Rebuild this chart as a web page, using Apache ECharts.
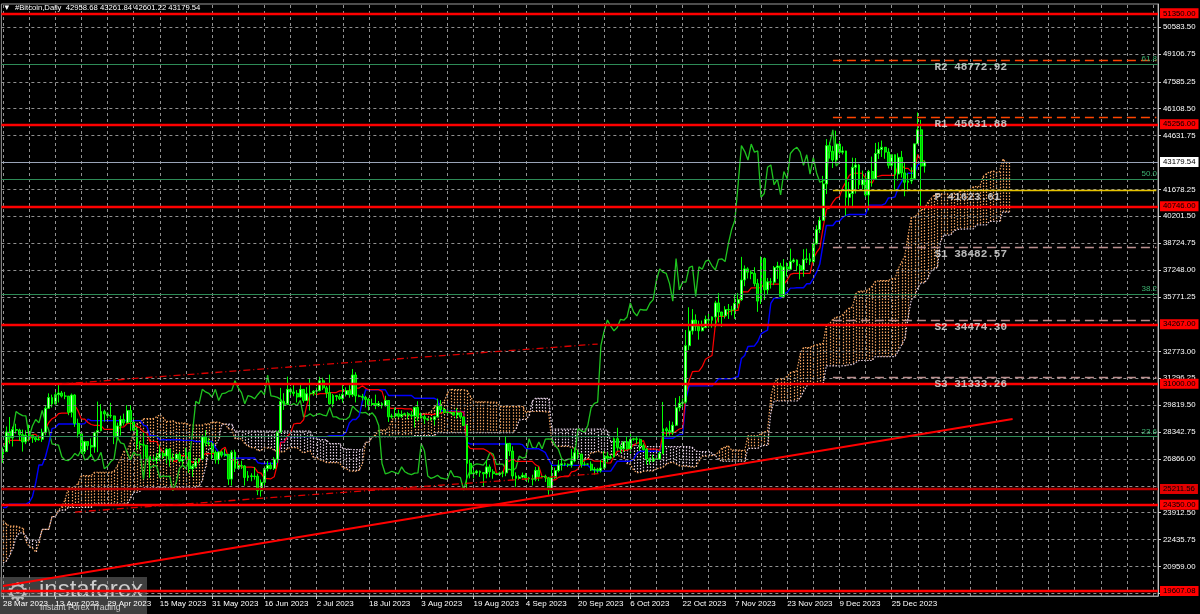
<!DOCTYPE html>
<html><head><meta charset="utf-8">
<script src="https://cdn.jsdelivr.net/npm/echarts@6/dist/echarts.min.js"></script>
<style>html,body{margin:0;padding:0;background:#000;}#c{width:1200px;height:614px;}</style>
</head><body><div id="c"></div>
<script>
// ---- data ----
// highs / lows of the 78 sessions before the first visible bar (needed only by the Ichimoku indicator)
const prehistHigh = [17400,17500,18000,19100,19900,21200,21000,21400,21600,21600,21200,22700,23300,23100,23200,23100,23800,23200,23500,23200,23900,23800,23200,
23800,24200,23700,23600,23400,23100,23300,23400,22900,21900,21900,22100,21800,22300,24300,25200,24900,24700,25100,25100,25200,24400,24500,24000,23200,23600,23900,23600,
24000,23800,23500,22500,22600,22600,22500,22100,21800,20300,20800,22200,24600,26400,25300,25200,27800,27700,28400,28500,28500,28800,28800,28400,27800,28200,28000];
const prehistLow = [17100,17100,17300,17900,18700,19900,20600,20600,20900,20400,20700,20900,22400,22300,22500,22500,22300,22900,22500,22900,23000,22600,22700,
22800,23400,23200,23300,22800,22600,22700,22700,21700,21500,21600,21600,21400,21500,22100,23600,23400,24400,24300,24200,24200,23600,23700,22900,22800,23000,23100,23000,
23000,23200,22100,22200,22200,22300,21900,21600,20100,19600,19800,20400,21900,24100,23900,24200,24900,26600,26900,27200,27400,26700,27200,27000,27300,27400,26600];

// daily bars from 28 Mar 2023: [open, high, low, close]
const btcDaily = [
[27140,27500,26650,27270],[27270,28650,27250,28350],[28350,29170,27700,28030],[28030,28640,27550,28480],
[28480,28800,28260,28450],[28450,28530,27870,28200],[28200,28480,27270,27800],[27800,28440,27680,28170],[28170,28750,27830,28170],[28170,28190,27750,28030],[28030,28100,27800,27920],[27920,28160,27880,27950],[27950,28530,27800,28330],[28330,29770,28170,29650],
[29650,30470,29610,30240],[30240,30400,29700,29890],[29890,30580,29850,30400],[30400,30970,29970,30490],[30490,30600,30240,30320],[30320,30550,30150,30320],[30320,30320,29270,29430],[29430,30460,29150,30380],[30380,30420,28630,28820],[28820,29080,28040,28250],
[28250,28370,27140,27270],[27270,27870,27140,27820],[27820,27820,27360,27600],[27600,28000,26970,27520],[27520,28370,27210,28310],[28310,30020,27240,28420],[28420,29880,28380,29470],[29470,29570,28920,29340],[29340,29440,29100,29250],[29250,29950,29110,29230],
[29230,29250,27680,28070],[28070,28860,27880,28680],[28680,29240,28150,29030],[29030,29360,28700,28850],[28850,29820,28830,29530],[29530,29830,28410,28900],[28900,29150,28320,28450],[28450,28630,27330,27690],[27690,27840,27390,27650],[27650,28310,26850,27620],
[27620,27630,26780,26990],[26990,27040,25820,26800],[26800,27030,26710,26780],[26780,27180,26600,26930],[26930,27650,26750,27170],[27170,27280,26870,27030],[27030,27480,26620,27400],[27400,27460,26440,26820],[26820,27170,26690,26890],[26890,27140,26840,27120],
[27120,27250,26700,26750],[26750,27030,26540,26850],[26850,27480,26820,27230],[27230,27230,26100,26330],[26330,26580,25880,26470],[26470,26930,26350,26720],[26720,26890,26610,26870],[26870,28190,26800,28080],[28080,28440,27560,27750],[27750,28030,27570,27700],[27700,27810,26850,27220],
[27220,27330,26610,26820],[26820,27290,26580,27250],[27250,27320,26950,27070],[27070,27430,26990,27120],[27120,27130,25440,25760],[25760,27350,25400,27240],[27240,27370,26150,26350],[26350,26780,26320,26500],[26500,26770,26310,26480],[26480,26530,25400,25850],
[25850,26200,25650,25940],[25940,26080,25640,25900],[25900,26420,25730,25920],[25920,26060,24880,25120],[25120,25740,24800,25580],[25580,26460,25180,26340],[26340,26750,26180,26520],[26520,26680,26290,26340],[26340,26970,26260,26850],[26850,28380,26650,28330],
[28330,30770,28280,30030],[30030,30480,29560,29900],[29900,31390,29830,30690],[30690,30790,30310,30550],[30550,31010,30310,30470],[30470,30650,29970,30270],[30270,31000,30230,30690],[30690,30700,29960,30080],[30080,30810,30050,30450],[30450,31280,29530,30480],
[30480,30650,30340,30590],[30590,30790,30250,30620],[30620,31380,30580,31160],[31160,31330,30650,30770],[30770,30880,30220,30510],[30510,31500,29850,29900],[29900,30440,29710,30350],[30350,30380,30060,30290],[30290,30440,30100,30170],[30170,31040,29960,30410],
[30410,30800,30300,30620],[30620,30960,30230,30390],[30390,31810,30270,31480],[31480,31630,29970,30330],[30330,30400,30260,30300],[30300,30440,30080,30250],[30250,30340,29700,30140],[30140,30230,29530,29860],[29860,30180,29770,29910],[29910,30400,29600,29800],
[29800,30050,29730,29910],[29910,29990,29640,29800],[29800,30340,29740,30080],[30080,30100,28900,29180],[29180,29350,29080,29230],[29230,29680,29110,29350],[29350,29570,29110,29210],[29210,29530,29120,29310],[29310,29410,29260,29350],[29350,29450,29050,29280],[29280,29500,29120,29230],
[29230,29730,28590,29700],[29700,30040,28950,29180],[29180,29410,29090,29180],[29180,29310,28790,29070],[29070,29100,28960,29050],[29050,29170,28980,29040],[29040,29240,28720,29180],[29180,30180,29130,29770],[29770,30100,29390,29580],[29580,29690,29350,29430],
[29430,29540,29360,29400],[29400,29470,29360,29420],[29420,29450,29250,29280],[29280,29650,29090,29400],[29400,29460,29060,29170],[29170,29220,28700,28700],[28700,28780,25200,26620],[26620,26810,25800,26050],[26050,26250,25800,26100],[26100,26270,25990,26190],
[26190,26230,25880,26120],[26120,26130,25360,26050],[26050,26800,25800,26430],[26430,26560,25860,26160],[26160,26300,25780,26060],[26060,26090,25980,26010],[26010,26170,25970,26090],[26090,26220,25860,26100],[26100,28130,25920,27720],[27720,27750,27030,27300],[27300,27560,25690,25930],
[25930,26130,25340,25800],[25800,25970,25720,25870],[25870,26120,25800,25970],[25970,26090,25660,25820],[25820,25880,25570,25780],[25780,26000,25410,25750],[25750,26430,25640,26240],[26240,26440,25650,25900],[25900,25940,25810,25900],[25900,26000,25600,25840],
[25840,25880,24900,25160],[25160,26540,25140,25840],[25840,26390,25770,26230],[26230,26810,26130,26530],[26530,26890,26230,26600],[26600,26670,26480,26570],[26570,26620,26420,26530],[26530,27410,26390,26760],[26760,27490,26680,27210],[27210,27380,26850,27130],
[27130,27160,26390,26570],[26570,26730,26490,26580],[26580,26620,26520,26580],[26580,26730,26200,26260],[26260,26420,26000,26300],[26300,26380,26100,26220],[26220,26820,26120,26370],[26370,27290,26330,27020],[27020,27240,26680,26910],[26910,27090,26890,26970],
[26970,28050,26940,27980],[27980,28580,27330,27500],[27500,27660,27180,27430],[27430,27830,27240,27800],[27800,28120,27370,27420],[27420,28260,27180,27950],[27950,28030,27860,27970],[27970,28100,27700,27940],[27940,27990,27300,27600],[27600,27720,27330,27390],
[27390,27480,26560,26870],[26870,26940,26560,26760],[26760,27100,26700,26860],[26860,26960,26820,26860],[26860,27280,26810,27160],[27160,30000,27130,28520],[28520,28610,28120,28420],[28420,28960,28150,28330],[28330,28910,28180,28720],[28720,30220,28670,29680],
[29680,30320,29480,29920],[29920,30190,29700,29990],[29990,33950,29900,33090],[33090,35200,32850,33900],[33900,35100,33700,34500],[34500,34810,33900,34160],[34160,34470,33420,33910],[33910,34470,33880,34090],[34090,34740,34050,34540],[34540,34910,34080,34490],[34490,34700,34080,34670],
[34670,35560,34120,35440],[35440,35980,34360,34940],[34940,34950,34120,34730],[34730,35260,34580,35080],[35080,35380,34560,35050],[35050,35280,34760,35050],[35050,35900,34560,35420],[35420,35980,35140,35620],[35620,37970,35550,36700],[36700,37500,36360,37310],
[37310,37400,36780,37130],[37130,37230,36740,37060],[37060,37400,36350,36500],[36500,36760,34950,35540],[35540,37990,35380,37880],[37880,37940,35600,36160],[36160,36810,35890,36600],[36600,36800,36230,36580],[36580,37470,36420,37380],[37380,37700,36760,37470],
[37470,37640,35800,35800],[35800,37850,35700,37420],[37420,37660,36900,37290],[37290,38420,37260,37720],[37720,37890,37630,37800],[37800,37830,37180,37480],[37480,37580,36730,37250],[37250,38390,36880,37830],[37830,38420,37630,37860],[37860,38170,37520,37710],
[37710,38990,37630,38690],[38690,39700,38650,39470],[39470,40200,39280,39980],[39980,42420,39980,41980],[41980,44440,41420,44080],[44080,44270,43370,43770],[43770,44060,42850,43290],[43290,44900,43100,44170],[44170,44350,43600,43720],[43720,44040,43600,43790],
[43790,43800,40230,41240],[41240,42090,40680,41450],[41450,43420,40650,42890],[42890,43400,41450,43020],[43020,43080,41700,41930],[41930,42710,41700,42240],[42240,42420,41260,41370],[41370,42750,40530,42660],[42660,43480,41830,42260],[42260,44230,42230,43650],
[43650,44270,43350,43870],[43870,44360,43460,43990],[43990,44010,43360,43730],[43730,43940,42830,43000],[43000,43580,42770,43580],[43580,43600,41650,42520],[42520,43660,42160,43440],[43440,43790,42330,42580],[42580,43140,41300,42070],[42070,42580,41570,42140],[42140,42890,41980,42280],
[42280,44180,42190,44180],[44180,45900,44180,44950],[44950,45500,40600,42960],[42958.68,43261.84,42601.22,43179.54]
];

const headerText = '▼  #Bitcoin,Daily  42958.68 43261.84 42601.22 43179.54';
const yTickLabels = [50583.50,49106.75,47585.25,46108.50,44631.75,41678.25,40201.50,38724.75,37248.00,35771.25,32773.00,31296.25,29819.50,28342.75,26866.00,23912.50,22435.75,20959.00,19482.25];
const yHiddenGrid = [43155.00,34272.00,25389.25];
const xTickIdx = [0,16,32,48,64,80,96,112,128,144,160,176,192,208,224,240,256,272];
const xTickLabels = ['28 Mar 2023','13 Apr 2023','29 Apr 2023','15 May 2023','31 May 2023','16 Jun 2023','2 Jul 2023','18 Jul 2023','3 Aug 2023','19 Aug 2023','4 Sep 2023','20 Sep 2023','6 Oct 2023','22 Oct 2023','7 Nov 2023','23 Nov 2023','9 Dec 2023','25 Dec 2023'];
const levelLines = [51350.00,45256.00,40746.00,34267.00,31000.00,25211.56,24350.00,19607.08];
const fibLevels = [['61.8',48555],['50.0',42238],['38.2',35921],['23.6',28107]];
const pivotLevels = [['R2',48772.92],['R1',45631.88],['P',41623.61],['S1',38482.57],['S2',34474.30],['S3',31333.26]];
const pivotStartIdx = 254;
const currentPrice = 43179.54;
const trendLine = [[0,19885],[309,29056]];
const channelUpper = [[18,30990],[182,33180]];
const channelLower = [[22,23950],[183,26070]];

// ---- layout ----
const SLOTS = 354;
const cats = Array.from({length: SLOTS}, (_, i) => String(i));
const gridIdx = [];
for (let i = 0; i <= 352; i += 8) gridIdx.push(i);

// ---- Ichimoku (9, 26, 52) derived from the bars ----
const P0 = prehistHigh.length;
const H = prehistHigh.concat(btcDaily.map(d => d[1]));
const L = prehistLow.concat(btcDaily.map(d => d[2]));
function mid(g, n) {
  let hi = -Infinity, lo = Infinity;
  for (let k = g - n + 1; k <= g; k++) { if (k < 0) continue; hi = Math.max(hi, H[k]); lo = Math.min(lo, L[k]); }
  return (hi + lo) / 2;
}
const tenkan = btcDaily.map((d, i) => mid(i + P0, 9));
const kijun = btcDaily.map((d, i) => mid(i + P0, 26));
const cloud = [];
for (let i = 0; i < btcDaily.length + 26; i++) {
  const g = i + P0 - 26;
  const a = (mid(g, 9) + mid(g, 26)) / 2, b = mid(g, 52);
  cloud.push([i, a, b]);
}
const chikou = [];
btcDaily.forEach((d, i) => { if (i - 26 >= 0) chikou.push([i - 26, d[3]]); });

const candleData = btcDaily.map(d => [d[0], d[3], d[2], d[1]]);

const chart = echarts.init(document.getElementById('c'), null, {renderer: 'canvas'});
const FONT = 'Liberation Sans';
const noSym = ['none', 'none'];

const levelMarks = [];
levelLines.forEach(v => levelMarks.push({
  yAxis: v,
  lineStyle: {color: v === 25211.56 ? '#b80000' : '#ff0000', width: 2.4, type: 'solid'},
  label: {show: true, position: 'end', distance: 2, formatter: v.toFixed(2), backgroundColor: v === 25211.56 ? '#e00000' : '#ff0000', color: '#000', fontSize: 7.8, fontFamily: FONT, padding: [1, 3, 1, 3]}
}));
fibLevels.forEach(f => levelMarks.push({
  yAxis: f[1],
  lineStyle: {color: '#2e8b57', width: 1, type: 'solid'},
  label: {show: true, position: 'insideEndTop', distance: 1, formatter: f[0], color: '#3cb371', fontSize: 8, fontFamily: FONT}
}));
levelMarks.push({
  yAxis: currentPrice,
  lineStyle: {color: '#9aa4b8', width: 1, type: 'solid'},
  label: {show: true, position: 'end', distance: 2, formatter: currentPrice.toFixed(2), backgroundColor: '#ffffff', color: '#000', fontSize: 7.8, fontFamily: FONT, padding: [1, 3, 1, 3]}
});
const pivotMarks = pivotLevels.map(p => {
  const col = p[0] === 'P' ? '#e6c300' : (p[0][0] === 'R' ? '#ff4500' : '#bc8f8f');
  return [{coord: [pivotStartIdx, p[1]], lineStyle: {color: col, width: 1.3, type: p[0] === 'P' ? 'solid' : [9, 5]}}, {coord: [SLOTS - 1, p[1]]}];
});

const option = {
  backgroundColor: '#000',
  animation: false,
  grid: {left: 0, right: 42, top: 4, bottom: 18, show: true, borderColor: '#9a9a9a', borderWidth: 1, backgroundColor: '#000'},
  xAxis: {
    type: 'category', data: cats, boundaryGap: true,
    axisLine: {show: true, lineStyle: {color: '#9a9a9a'}},
    axisTick: {show: true, alignWithLabel: true, interval: (i) => xTickIdx.includes(i), length: 3, lineStyle: {color: '#ccc'}},
    axisLabel: {interval: (i) => xTickIdx.includes(i), formatter: (v, i) => xTickLabels[xTickIdx.indexOf(Number(v))] || '', align: 'left', color: '#fff', fontSize: 8, fontFamily: FONT, margin: 4},
    splitLine: {show: false}
  },
  yAxis: {
    type: 'value', position: 'right', min: 19336, max: 51864, scale: true,
    splitLine: {show: false},
    axisLine: {show: true, lineStyle: {color: '#bbb'}},
    axisTick: {show: true, customValues: yTickLabels, length: 3, lineStyle: {color: '#ccc'}},
    axisLabel: {customValues: yTickLabels, color: '#fff', fontSize: 7.8, fontFamily: FONT, margin: 5, formatter: v => Number(v).toFixed(2)}
  },
  series: [
    { // grid
      type: 'line', data: [], z: 0, silent: true,
      markLine: {silent: true, symbol: noSym, animation: false, label: {show: false},
        lineStyle: {color: '#909090', width: 1, type: [3, 3]},
        data: yTickLabels.concat(yHiddenGrid).map(v => ({yAxis: v})).concat(gridIdx.map(i => ({xAxis: i})))}
    },
    { // cloud hatch
      type: 'custom', z: 1, silent: true, data: cloud, encode: {x: 0, y: [1, 2]},
      renderItem: (params, api) => {
        const i = api.value(0), a = api.value(1), b = api.value(2);
        const p1 = api.coord([i, a]), p2 = api.coord([i, b]);
        const x = Math.round(p1[0]) + 0.5;
        return {type: 'line', shape: {x1: x, y1: p1[1], x2: x, y2: p2[1]},
          style: {stroke: a >= b ? '#f4a460' : '#e4d0e4', lineWidth: 1.2, lineDash: [1.5, 1.5]}};
      }
    },
    {type: 'line', z: 1, silent: true, showSymbol: false, data: cloud.map(c => [c[0], c[1]]), lineStyle: {color: '#f4a460', width: 1.2, type: [1.5, 1.5]}},
    {type: 'line', z: 1, silent: true, showSymbol: false, data: cloud.map(c => [c[0], c[2]]), lineStyle: {color: '#e4d0e4', width: 1.2, type: [1.5, 1.5]}},
    { // horizontal levels
      type: 'line', data: [], z: 2, silent: true,
      markLine: {silent: true, symbol: noSym, animation: false, data: levelMarks.concat(pivotMarks), label: {show: false}}
    },
    {type: 'line', z: 3, silent: true, showSymbol: false, data: chikou, lineStyle: {color: '#1fc41f', width: 1.3}},
    {type: 'line', z: 3, silent: true, showSymbol: false, data: kijun, lineStyle: {color: '#0000ff', width: 1.4}},
    {type: 'line', z: 3, silent: true, showSymbol: false, data: tenkan, lineStyle: {color: '#ff0000', width: 1.2}},
    {
      type: 'candlestick', z: 4, silent: true, data: candleData, barWidth: 2.4,
      itemStyle: {color: '#c8ffc8', color0: '#00c000', borderColor: '#00ff00', borderColor0: '#00ff00', borderWidth: 1}
    },
    { // trend lines
      type: 'line', data: [], z: 5, silent: true,
      markLine: {silent: true, symbol: noSym, animation: false, label: {show: false}, data: [
        [{coord: trendLine[0], lineStyle: {color: '#ff0000', width: 2, type: 'solid'}}, {coord: trendLine[1]}],
        [{coord: channelUpper[0], lineStyle: {color: '#dd0000', width: 1.3, type: [7, 3, 1, 3]}}, {coord: channelUpper[1]}],
        [{coord: channelLower[0], lineStyle: {color: '#dd0000', width: 1.3, type: [7, 3, 1, 3]}}, {coord: channelLower[1]}]
      ]}
    },
    { // pivot labels
      type: 'scatter', z: 6, silent: true, symbol: 'circle', symbolSize: 1,
      itemStyle: {color: 'rgba(0,0,0,0)'},
      data: pivotLevels.map(p => ({name: p[0] + ' ' + p[1].toFixed(2), value: [284, p[1]]})),
      label: {show: true, position: 'right', distance: 3, offset: [0, 7], formatter: '{b}', color: '#e6e6e6', fontSize: 11, fontWeight: 'bold', fontFamily: 'Liberation Mono'}
    }
  ],
  graphic: [
    {type: 'text', left: 3, top: 4, z: 100, style: {text: headerText, fill: '#ffffff', font: '7.7px "Liberation Sans"'}},
    {type: 'group', left: 0, top: 577, z: 100, children: [
      {type: 'rect', shape: {x: 0, y: 0, width: 147, height: 37}, style: {fill: 'rgba(105,105,105,0.6)'}},
      {type: 'text', x: 6, y: 4, style: {text: '⚙', fill: 'rgba(210,210,210,0.85)', font: '26px "DejaVu Sans"'}},
      {type: 'text', x: 39, y: 1, style: {text: 'instaforex', fill: 'rgba(220,220,220,0.9)', font: '24px "Liberation Sans"'}},
      {type: 'text', x: 40, y: 26, style: {text: 'Instant Forex Trading', fill: 'rgba(220,220,220,0.9)', font: '8.5px "Liberation Sans"'}}
    ]}
  ]
};
chart.setOption(option);
</script>
</body></html>
